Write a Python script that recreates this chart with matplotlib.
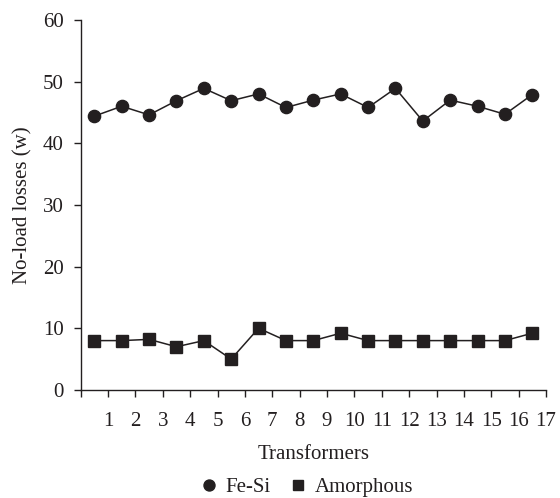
import matplotlib.pyplot as plt
import numpy as np

transformers = np.arange(1, 18) - 0.5
fe_si = [44.4, 46.0, 44.6, 46.9, 48.9, 46.9, 48.0, 45.8, 47.0,
         48.0, 45.8, 48.9, 43.6, 47.0, 46.0, 44.7, 47.9]
amorphous = [8.0, 8.0, 8.2, 7.0, 8.0, 5.0, 10.0, 8.0, 8.0,
             9.2, 8.0, 8.0, 8.0, 8.0, 8.0, 8.0, 9.2]
xticks = list(range(0, 18))
xlabels = [''] + [str(i) for i in range(1, 18)]

ink = '#231f20'
fs = 15
plt.rcParams['font.family'] = ['Liberation Serif', 'DejaVu Serif']

fig = plt.figure(figsize=(5.6, 4.98), dpi=100)
ax = fig.add_axes([0.144, 0.217, 0.831, 0.743])

ax.plot(transformers, fe_si, color=ink, lw=1.1, marker='o', ms=8.8,
        label='Fe-Si')
ax.plot(transformers, amorphous, color=ink, lw=1.1, marker='s', ms=8.2,
        label='Amorphous')

ax.set_xlim(0, 17)
ax.set_ylim(0, 60)
ax.set_xticks(xticks)
ax.set_xticklabels(xlabels)
ax.set_yticks(range(0, 61, 10))

for s in ['top', 'right']:
    ax.spines[s].set_visible(False)
for s in ['left', 'bottom']:
    ax.spines[s].set_color(ink)
    ax.spines[s].set_linewidth(1.0)

ax.tick_params(axis='x', length=5, width=1, color=ink, labelsize=fs,
               pad=11, labelcolor=ink)
ax.tick_params(axis='y', length=5, width=1, color=ink, labelsize=fs,
               pad=7, labelcolor=ink)

ax.set_xlabel('Transformers', fontsize=fs, color=ink, labelpad=10)
ax.set_ylabel('No-load losses (w)', fontsize=fs, color=ink, labelpad=8)

handles, labels = ax.get_legend_handles_labels()
leg = fig.legend(handles, labels, loc='center', bbox_to_anchor=(0.55, 0.022),
                 ncol=2, frameon=False, fontsize=fs, handlelength=0.6,
                 handletextpad=0.5, columnspacing=1.0, markerscale=0.9,
                 borderpad=0)
for t in leg.get_texts():
    t.set_color(ink)
for h in leg.legend_handles:
    h.set_linestyle('none')

fig.savefig('out.png', dpi=100)
